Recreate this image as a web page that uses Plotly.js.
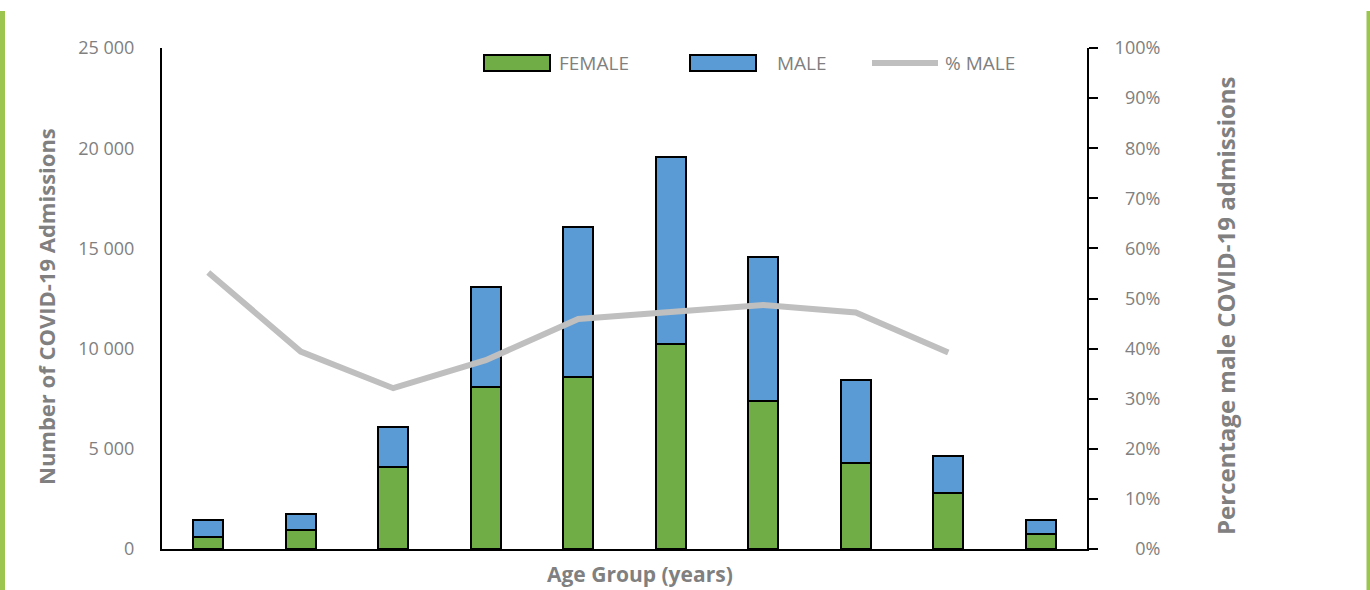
<!DOCTYPE html>
<html>
<head>
<meta charset="utf-8">
<script src="https://cdn.plot.ly/plotly-3.0.1.min.js"></script>
<style>
html,body{margin:0;padding:0;background:#fff;}
#chart{width:1370px;height:590px;}
</style>
</head>
<body>
<div id="chart"></div>
<script>
// ---- data ----
const ageGroups = ["0-9","10-19","20-29","30-39","40-49","50-59","60-69","70-79","80-89","90+"];
const female = [620, 940, 4080, 8090, 8570, 10250, 7410, 4270, 2770, 770];
const male   = [850, 830, 2020, 4970, 7490, 9300, 7150, 4140, 1850, 670];
const pctMaleGroups = ageGroups.slice(0, 9);
const pctMale = [55.2, 39.4, 32.1, 37.7, 45.9, 47.4, 48.7, 47.2, 39.2];
const pctTickVals = [0,10,20,30,40,50,60,70,80,90,100];
const pctTickText = ["\u2007\u20070%","\u200710%","\u200720%","\u200730%","\u200740%","\u200750%","\u200760%","\u200770%","\u200780%","\u200790%","100%"];
const countTickVals = [0, 5000, 10000, 15000, 20000, 25000];
const legendLabels = ["FEMALE", "MALE", "% MALE"];

// ---- layout helpers (pixel -> paper) ----
const W = 1370, H = 590;
const L = 162, R = 1087, T = 48, B = 549;
const px = x => (x - L) / (R - L);
const py = y => (B - y) / (B - T);

const GREEN = "#70AD47", BLUE = "#5B9BD5", GREY = "#BFBFBF";
const TXT = "#808080";
const FONT = "Open Sans, sans-serif";

const traces = [
  { type: "bar", name: "FEMALE", x: ageGroups, y: female,
    marker: { color: GREEN, line: { color: "#000", width: 2 } }, hoverinfo: "x+y" },
  { type: "bar", name: "MALE", x: ageGroups, y: male,
    marker: { color: BLUE, line: { color: "#000", width: 2 } }, hoverinfo: "x+y" },
  { type: "scatter", mode: "lines", name: "% MALE", x: pctMaleGroups, y: pctMale, yaxis: "y2",
    line: { color: GREY, width: 6 } }
];

const shapes = [
  // page side stripes
  { type: "rect", xref: "paper", yref: "paper", x0: px(0), x1: px(5), y0: py(590), y1: py(11),
    fillcolor: "#9BC54F", line: { width: 0 }, layer: "below" },
  { type: "rect", xref: "paper", yref: "paper", x0: px(1366.5), x1: px(1371), y0: py(590), y1: py(11),
    fillcolor: "#9BC54F", line: { width: 0 }, layer: "below" },
  // legend swatches
  { type: "rect", xref: "paper", yref: "paper", x0: px(484), x1: px(550), y0: py(71), y1: py(55),
    fillcolor: GREEN, line: { color: "#000", width: 2 } },
  { type: "rect", xref: "paper", yref: "paper", x0: px(690), x1: px(756), y0: py(71), y1: py(55),
    fillcolor: BLUE, line: { color: "#000", width: 2 } },
  { type: "line", xref: "paper", yref: "paper", x0: px(872), x1: px(938), y0: py(63), y1: py(63),
    line: { color: GREY, width: 6 } }
];

const legFont = { family: FONT, size: 19, color: TXT };
const annotations = [
  { text: legendLabels[0], xref: "paper", yref: "paper", x: px(557), y: py(63), xanchor: "left", yanchor: "middle",
    showarrow: false, font: legFont },
  { text: legendLabels[1], xref: "paper", yref: "paper", x: px(775), y: py(63), xanchor: "left", yanchor: "middle",
    showarrow: false, font: legFont },
  { text: legendLabels[2], xref: "paper", yref: "paper", x: px(943), y: py(63), xanchor: "left", yanchor: "middle",
    showarrow: false, font: legFont },
  { text: "<b>Number of COVID-19 Admissions</b>", xref: "paper", yref: "paper", x: px(46), y: py(307),
    xanchor: "center", yanchor: "middle", textangle: -90, showarrow: false,
    font: { family: FONT, size: 22, color: TXT } },
  { text: "<b>Percentage male COVID-19 admissions</b>", xref: "paper", yref: "paper", x: px(1225), y: py(306),
    xanchor: "center", yanchor: "middle", textangle: -90, showarrow: false,
    font: { family: FONT, size: 24, color: TXT } },
  { text: "<b>Age Group (years)</b>", xref: "paper", yref: "paper", x: px(640), y: py(574),
    xanchor: "center", yanchor: "middle", showarrow: false,
    font: { family: FONT, size: 21, color: TXT } }
];

const layout = {
  width: W, height: H,
  margin: { l: L, r: W - R, t: T, b: H - B, pad: 0 },
  paper_bgcolor: "#fff", plot_bgcolor: "#fff",
  barmode: "stack", bargap: 0.675,
  showlegend: false,
  separators: ". ",
  font: { family: FONT, size: 18, color: TXT },
  xaxis: {
    type: "category", showticklabels: false, ticks: "", showgrid: false, zeroline: false,
    showline: true, linecolor: "#000", linewidth: 2, fixedrange: true
  },
  yaxis: {
    range: [0, 25000], tickvals: countTickVals, tickformat: ",d",
    showgrid: false, zeroline: false, showline: true, linecolor: "#000", linewidth: 2,
    ticks: "", ticklabelstandoff: 22, tickfont: { family: FONT, size: 18, color: TXT }
  },
  yaxis2: {
    overlaying: "y", side: "right", range: [0, 100],
    tickvals: pctTickVals, ticktext: pctTickText,
    showgrid: false, zeroline: false, showline: true, linecolor: "#000", linewidth: 2,
    ticks: "outside", ticklen: 9, tickwidth: 2, tickcolor: "#000", ticklabelstandoff: 13,
    tickfont: { family: FONT, size: 18, color: TXT }
  },
  shapes: shapes,
  annotations: annotations
};

Plotly.newPlot("chart", traces, layout, { displayModeBar: false, staticPlot: true });
</script>
</body>
</html>
